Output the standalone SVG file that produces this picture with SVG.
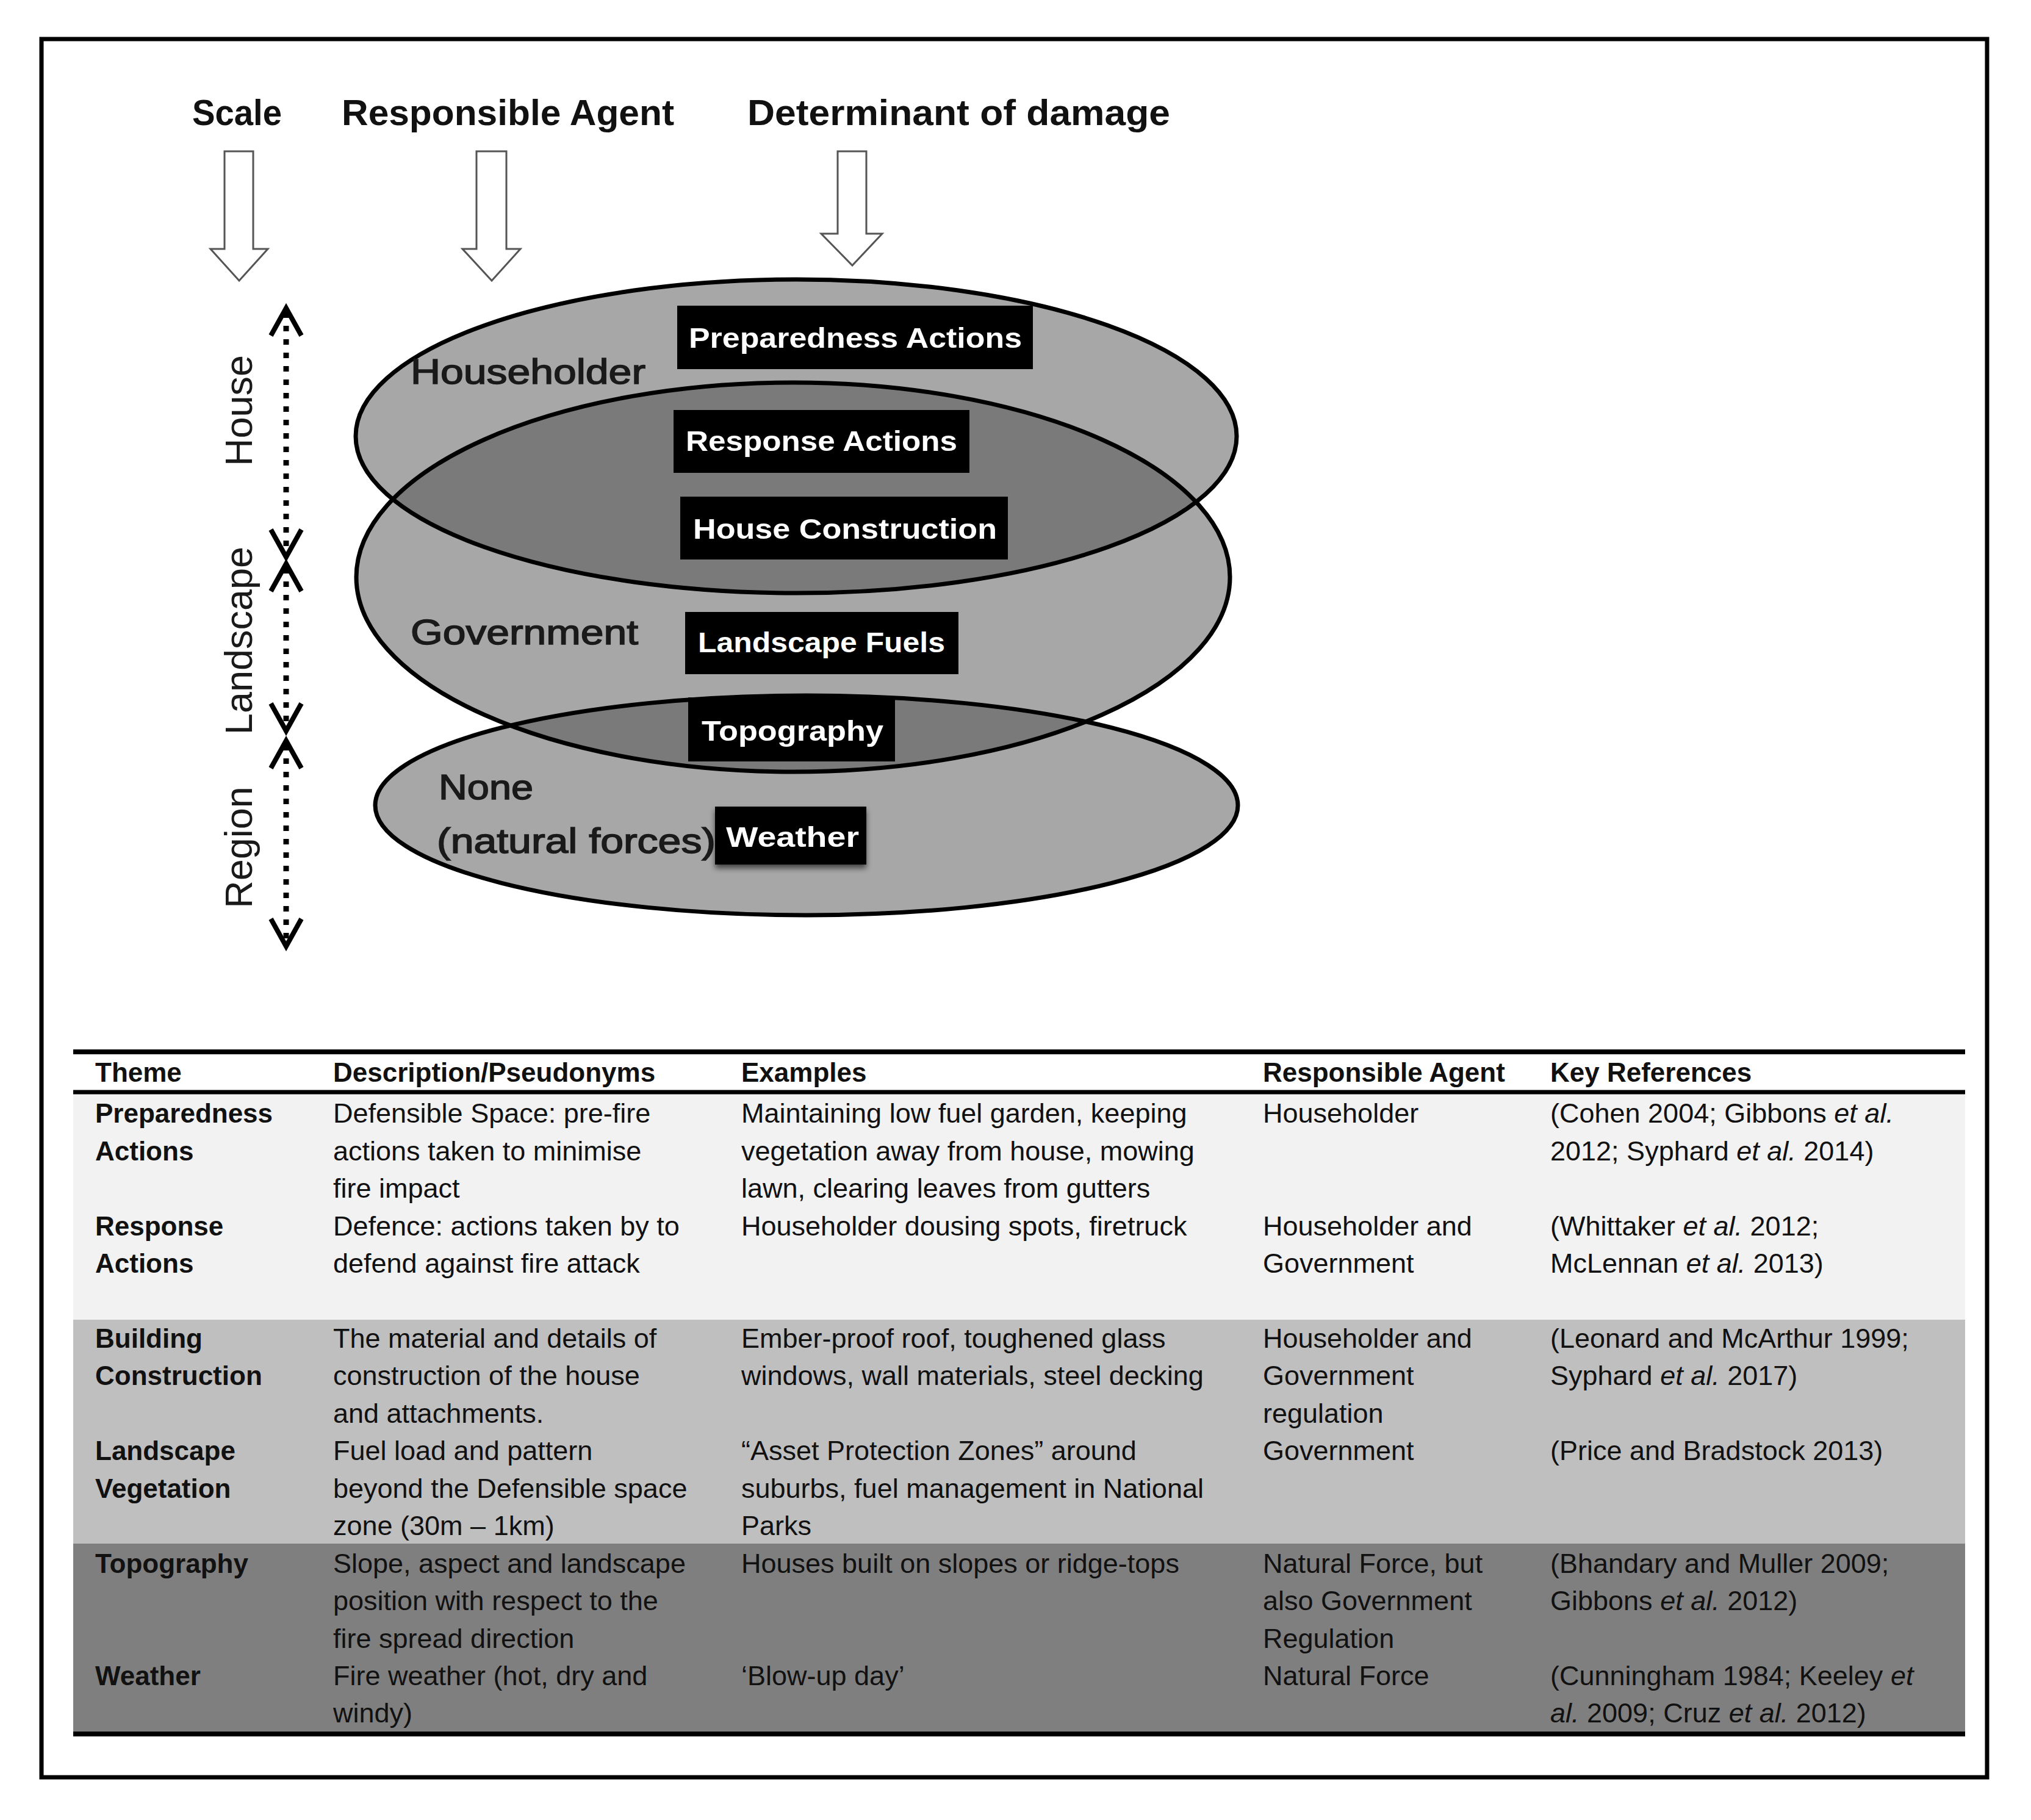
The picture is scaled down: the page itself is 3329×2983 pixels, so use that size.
<svg xmlns="http://www.w3.org/2000/svg" width="3329" height="2983" viewBox="0 0 3329 2983">
<style>
text { font-family: "Liberation Sans", Arial, sans-serif; fill: #111; }
.hd { font-size: 60px; font-weight: bold; }
.lab { font-size: 58px; fill: #1a1a1a; stroke: #1a1a1a; stroke-width: 1.6; }
.rot { font-size: 63px; fill: #1a1a1a; }
.box { fill: #000; }
.bt { font-size: 46px; font-weight: bold; fill: #fff; }
.hollow { fill: #fff; stroke: #555; stroke-width: 3; stroke-linejoin: miter; }
.dots { stroke: #000; stroke-width: 9; stroke-dasharray: 9 13; fill: none; }
.chev { stroke: #000; stroke-width: 8; fill: none; stroke-linejoin: miter; }
.eout { fill: none; stroke: #000; stroke-width: 7; }
.ein { fill: #a7a7a7; }
.eov { fill: #7a7a7a; }
.tt { font-size: 45px; }
.tb { font-size: 44px; font-weight: bold; }
.it { font-style: italic; }
</style>
<defs>
<clipPath id="clipTop"><ellipse cx="1305" cy="715" rx="722" ry="257"/></clipPath>
<clipPath id="clipMid"><ellipse cx="1300" cy="946" rx="716" ry="319"/></clipPath>
<filter id="shadow" x="-20%" y="-30%" width="140%" height="170%">
<feGaussianBlur in="SourceAlpha" stdDeviation="5"/>
<feOffset dx="0" dy="6" result="b"/>
<feComponentTransfer><feFuncA type="linear" slope="0.6"/></feComponentTransfer>
<feMerge><feMergeNode/><feMergeNode in="SourceGraphic"/></feMerge>
</filter>
</defs>
<rect x="0" y="0" width="3329" height="2983" fill="#fff"/>
<rect id="frame" x="68" y="64" width="3189" height="2849" fill="none" stroke="#000" stroke-width="7"/>

<g id="headings">
<text class="hd" x="315" y="205" textLength="147" lengthAdjust="spacingAndGlyphs">Scale</text>
<text class="hd" x="560" y="205" textLength="545" lengthAdjust="spacingAndGlyphs">Responsible Agent</text>
<text class="hd" x="1225" y="205" textLength="693" lengthAdjust="spacingAndGlyphs">Determinant of damage</text>
</g>

<g id="ellipses">
<ellipse id="ellipse-householder" class="ein" cx="1305" cy="715" rx="722" ry="257"/>
<ellipse id="ellipse-government" class="ein" cx="1300" cy="946" rx="716" ry="319"/>
<ellipse id="ellipse-none" class="ein" cx="1322" cy="1320" rx="707" ry="180"/>
<ellipse class="eov" cx="1300" cy="946" rx="716" ry="319" clip-path="url(#clipTop)"/>
<ellipse class="eov" cx="1322" cy="1320" rx="707" ry="180" clip-path="url(#clipMid)"/>
<ellipse class="eout" cx="1305" cy="715" rx="722" ry="257"/>
<ellipse class="eout" cx="1300" cy="946" rx="716" ry="319"/>
<ellipse class="eout" cx="1322" cy="1320" rx="707" ry="180"/>
</g>

<g id="label-householder"><text class="lab" x="673" y="629" textLength="385" lengthAdjust="spacingAndGlyphs">Householder</text></g>
<g id="label-government"><text class="lab" x="673" y="1056" textLength="373" lengthAdjust="spacingAndGlyphs">Government</text></g>
<g id="label-none">
<text class="lab" x="719" y="1310" textLength="155" lengthAdjust="spacingAndGlyphs">None</text>
<text class="lab" x="716" y="1398" textLength="457" lengthAdjust="spacingAndGlyphs">(natural forces)</text>
</g>

<g id="box-preparedness"><rect class="box" x="1110" y="501" width="583" height="104"/><text class="bt" x="1129" y="570" textLength="546" lengthAdjust="spacingAndGlyphs">Preparedness Actions</text></g>
<g id="box-response"><rect class="box" x="1104" y="672" width="485" height="103"/><text class="bt" x="1124" y="739" textLength="445" lengthAdjust="spacingAndGlyphs">Response Actions</text></g>
<g id="box-house"><rect class="box" x="1115" y="814" width="537" height="103"/><text class="bt" x="1136" y="883" textLength="498" lengthAdjust="spacingAndGlyphs">House Construction</text></g>
<g id="box-landscape"><rect class="box" x="1123" y="1003" width="448" height="102"/><text class="bt" x="1144" y="1069" textLength="405" lengthAdjust="spacingAndGlyphs">Landscape Fuels</text></g>
<g id="box-topography"><rect class="box" x="1128" y="1143" width="339" height="105"/><text class="bt" x="1150" y="1214" textLength="298" lengthAdjust="spacingAndGlyphs">Topography</text></g>
<g id="box-weather"><rect class="box" x="1172" y="1322" width="248" height="95" filter="url(#shadow)"/><text class="bt" x="1190" y="1388" textLength="218" lengthAdjust="spacingAndGlyphs">Weather</text></g>

<g id="scale-labels">
<text class="rot" transform="translate(413,673) rotate(-90)" text-anchor="middle">House</text>
<text class="rot" transform="translate(413,1050) rotate(-90)" text-anchor="middle">Landscape</text>
<text class="rot" transform="translate(413,1389) rotate(-90)" text-anchor="middle">Region</text>
</g>

<g id="connectors">
<polygon class="hollow" points="368,248 415,248 415,408 439,408 392,460 345,408 368,408"/>
<polygon class="hollow" points="781,248 830,248 830,408 853,408 806,460 758,408 781,408"/>
<polygon class="hollow" points="1373,248 1420,248 1420,383 1446,383 1397,435 1346,383 1373,383"/>
<line class="dots" x1="469" y1="512" x2="469" y2="906"/>
<polyline class="chev" points="444,550 469,505 494,550"/>
<polyline class="chev" points="444,868 469,913 494,868"/>
<line class="dots" x1="469" y1="931" x2="469" y2="1191"/>
<polyline class="chev" points="444,969 469,924 494,969"/>
<polyline class="chev" points="444,1153 469,1198 494,1153"/>
<line class="dots" x1="469" y1="1221" x2="469" y2="1544"/>
<polyline class="chev" points="444,1259 469,1214 494,1259"/>
<polyline class="chev" points="444,1506 469,1551 494,1506"/>
</g>

<g id="table">
<rect x="120" y="1792" width="3101" height="371" fill="#f2f2f2"/>
<rect x="120" y="2163" width="3101" height="367" fill="#bfbfbf"/>
<rect x="120" y="2530" width="3101" height="310" fill="#7f7f7f"/>
<line x1="120" y1="1724" x2="3221" y2="1724" stroke="#000" stroke-width="8"/>
<line x1="120" y1="1790" x2="3221" y2="1790" stroke="#000" stroke-width="7"/>
<line x1="120" y1="2842" x2="3221" y2="2842" stroke="#000" stroke-width="8"/>

<text class="tb" x="156" y="1773">Theme</text>
<text class="tb" x="546" y="1773">Description/Pseudonyms</text>
<text class="tb" x="1215" y="1773">Examples</text>
<text class="tb" x="2070" y="1773">Responsible Agent</text>
<text class="tb" x="2541" y="1773">Key References</text>

<text class="tb" x="156" y="1840">Preparedness</text>
<text class="tb" x="156" y="1902">Actions</text>
<text class="tt" x="546" y="1840">Defensible Space: pre-fire</text>
<text class="tt" x="546" y="1902">actions taken to minimise</text>
<text class="tt" x="546" y="1963">fire impact</text>
<text class="tt" x="1215" y="1840">Maintaining low fuel garden, keeping</text>
<text class="tt" x="1215" y="1902">vegetation away from house, mowing</text>
<text class="tt" x="1215" y="1963">lawn, clearing leaves from gutters</text>
<text class="tt" x="2070" y="1840">Householder</text>
<text class="tt" x="2541" y="1840">(Cohen 2004; Gibbons <tspan class="it">et al.</tspan></text>
<text class="tt" x="2541" y="1902">2012; Syphard <tspan class="it">et al.</tspan> 2014)</text>

<text class="tb" x="156" y="2025">Response</text>
<text class="tb" x="156" y="2086">Actions</text>
<text class="tt" x="546" y="2025">Defence: actions taken by to</text>
<text class="tt" x="546" y="2086">defend against fire attack</text>
<text class="tt" x="1215" y="2025">Householder dousing spots, firetruck</text>
<text class="tt" x="2070" y="2025">Householder and</text>
<text class="tt" x="2070" y="2086">Government</text>
<text class="tt" x="2541" y="2025">(Whittaker <tspan class="it">et al.</tspan> 2012;</text>
<text class="tt" x="2541" y="2086">McLennan <tspan class="it">et al.</tspan> 2013)</text>

<text class="tb" x="156" y="2209">Building</text>
<text class="tb" x="156" y="2270">Construction</text>
<text class="tt" x="546" y="2209">The material and details of</text>
<text class="tt" x="546" y="2270">construction of the house</text>
<text class="tt" x="546" y="2332">and attachments.</text>
<text class="tt" x="1215" y="2209">Ember-proof roof, toughened glass</text>
<text class="tt" x="1215" y="2270">windows, wall materials, steel decking</text>
<text class="tt" x="2070" y="2209">Householder and</text>
<text class="tt" x="2070" y="2270">Government</text>
<text class="tt" x="2070" y="2332">regulation</text>
<text class="tt" x="2541" y="2209">(Leonard and McArthur 1999;</text>
<text class="tt" x="2541" y="2270">Syphard <tspan class="it">et al.</tspan> 2017)</text>

<text class="tb" x="156" y="2393">Landscape</text>
<text class="tb" x="156" y="2455">Vegetation</text>
<text class="tt" x="546" y="2393">Fuel load and pattern</text>
<text class="tt" x="546" y="2455">beyond the Defensible space</text>
<text class="tt" x="546" y="2516">zone (30m – 1km)</text>
<text class="tt" x="1215" y="2393">“Asset Protection Zones” around</text>
<text class="tt" x="1215" y="2455">suburbs, fuel management in National</text>
<text class="tt" x="1215" y="2516">Parks</text>
<text class="tt" x="2070" y="2393">Government</text>
<text class="tt" x="2541" y="2393">(Price and Bradstock 2013)</text>

<text class="tb" x="156" y="2578">Topography</text>
<text class="tt" x="546" y="2578">Slope, aspect and landscape</text>
<text class="tt" x="546" y="2639">position with respect to the</text>
<text class="tt" x="546" y="2701">fire spread direction</text>
<text class="tt" x="1215" y="2578">Houses built on slopes or ridge-tops</text>
<text class="tt" x="2070" y="2578">Natural Force, but</text>
<text class="tt" x="2070" y="2639">also Government</text>
<text class="tt" x="2070" y="2701">Regulation</text>
<text class="tt" x="2541" y="2578">(Bhandary and Muller 2009;</text>
<text class="tt" x="2541" y="2639">Gibbons <tspan class="it">et al.</tspan> 2012)</text>

<text class="tb" x="156" y="2762">Weather</text>
<text class="tt" x="546" y="2762">Fire weather (hot, dry and</text>
<text class="tt" x="546" y="2823">windy)</text>
<text class="tt" x="1215" y="2762">‘Blow-up day’</text>
<text class="tt" x="2070" y="2762">Natural Force</text>
<text class="tt" x="2541" y="2762">(Cunningham 1984; Keeley <tspan class="it">et</tspan></text>
<text class="tt" x="2541" y="2823"><tspan class="it">al.</tspan> 2009; Cruz <tspan class="it">et al.</tspan> 2012)</text>
</g>
</svg>
